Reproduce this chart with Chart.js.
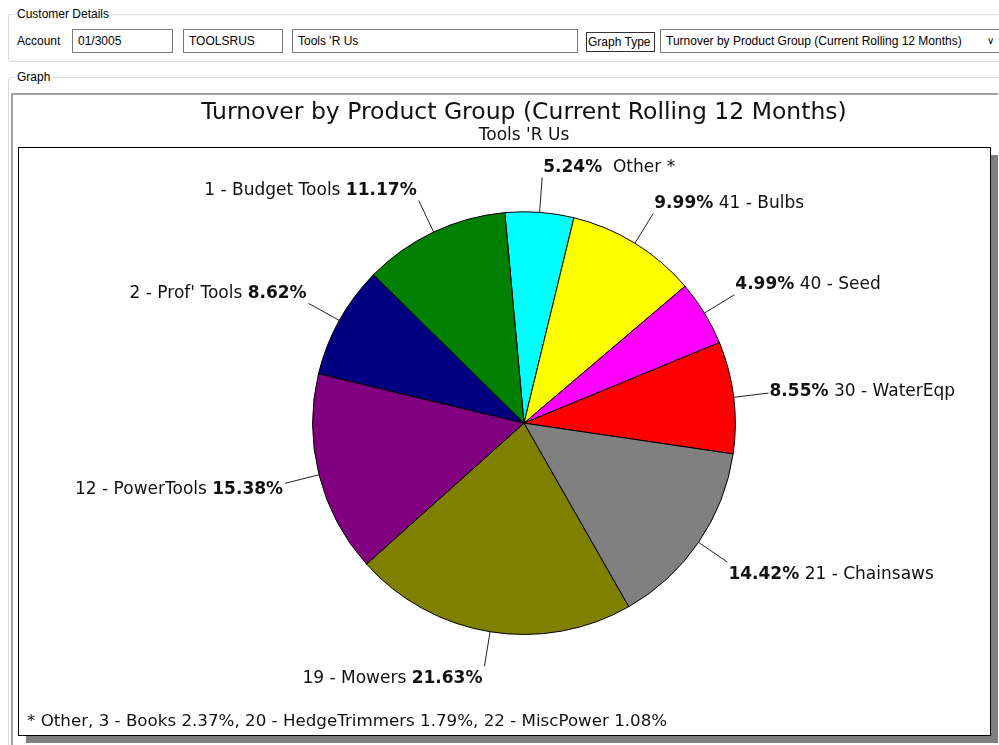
<!DOCTYPE html>
<html lang="en">
<head>
  <meta charset="UTF-8">
  <title>Turnover by Product Group</title>
  <script src="https://cdn.jsdelivr.net/npm/chart.js"></script>
  <style>
    body { margin: 0; background: #fff; font-family: "Liberation Sans", Arial, sans-serif; font-size: 12px; color: #000; }
    .abs { position: absolute; }
    fieldset { position: absolute; margin: 0; padding: 0; border: 1px solid #dcdcdc; border-radius: 3px; }
    legend { padding: 0 2px; margin-left: 6px; font-size: 12px; line-height: 12px; }
    .box { position: absolute; border: 1px solid #7a7a7a; height: 21px; line-height: 21px; padding-left: 5px; box-sizing: border-box; background: #fff; }
    #panel { position: absolute; left: 11px; top: 93px; width: 987px; height: 652px; border-left: 2px solid #a0a0a0; border-top: 2px solid #a0a0a0; box-sizing: border-box; }
    #chartWrap { position: absolute; left: 13px; top: 95px; width: 985px; height: 650px; }
  </style>
</head>
<body>
  <!-- Customer details group -->
  <fieldset style="left:8px; top:8px; width:1000px; height:52px;"><legend>Customer Details</legend></fieldset>
  <div class="abs" style="left:17px; top:34px;">Account</div>
  <div class="box" style="left:72px; top:29px; width:101px; height:24px; line-height:22px;">01/3005</div>
  <div class="box" style="left:183px; top:29px; width:100px; height:24px; line-height:22px;">TOOLSRUS</div>
  <div class="box" style="left:292px; top:29px; width:286px; height:24px; line-height:22px;">Tools 'R Us</div>
  <div class="box" style="left:586px; top:32px; width:69px; height:20px; line-height:18px; padding-left:1px; border-color:#333;">Graph Type</div>
  <div class="box" style="left:660px; top:29px; width:340px; height:24px; line-height:22px;">Turnover by Product Group (Current Rolling 12 Months)<span style="position:absolute; left:326px; top:0; font-size:10px;">&#8744;</span></div>

  <!-- Graph group -->
  <fieldset style="left:8px; top:71px; width:1000px; height:700px;"><legend>Graph</legend></fieldset>
  <div id="panel"></div>
  <div id="chartWrap"><canvas id="pieChart" width="985" height="650"></canvas></div>

<script>
// slices, clockwise from the top
const groupNames = ['Other *', '41 - Bulbs', '40 - Seed', '30 - WaterEqp', '21 - Chainsaws', '19 - Mowers', '12 - PowerTools', "2 - Prof' Tools", '1 - Budget Tools'];
const groupPercents = [5.24, 9.99, 4.99, 8.55, 14.42, 21.63, 15.38, 8.62, 11.17];
const groupColors = ['#00ffff', '#ffff00', '#ff00ff', '#ff0000', '#808080', '#808000', '#800080', '#000080', '#008000'];

// what "Other" is made of
const otherNames = ['3 - Books', '20 - HedgeTrimmers', '22 - MiscPower'];
const otherPercents = [2.37, 1.79, 1.08];

const chartTitle = 'Turnover by Product Group (Current Rolling 12 Months)';
const chartSubtitle = "Tools 'R Us";

const LABEL_FONT = 'DejaVu Sans, Verdana, sans-serif';
const LABEL_SIZE = 17;

// plot frame with drop shadow
const framePlugin = {
  id: 'frame',
  beforeDraw(chart) {
    const ctx = chart.ctx;
    const x = 5, y = 52, w = 972, h = 588;
    ctx.save();
    ctx.fillStyle = '#7f7f7f';
    ctx.fillRect(x + 8, y + 8, w, h);
    ctx.fillStyle = '#fff';
    ctx.fillRect(x, y, w, h);
    ctx.strokeStyle = '#000';
    ctx.lineWidth = 1;
    ctx.strokeRect(x + 0.5, y + 0.5, w, h);
    ctx.restore();
  },
  afterDraw(chart) {
    const ctx = chart.ctx;
    const parts = otherNames.map((n, i) => n + ' ' + otherPercents[i].toFixed(2) + '%');
    ctx.save();
    ctx.font = '16.7px ' + LABEL_FONT;
    ctx.fillStyle = '#111';
    ctx.textBaseline = 'middle';
    ctx.textAlign = 'left';
    ctx.fillText('* Other, ' + parts.join(', '), 14, 627);
    ctx.restore();
  }
};

// outside labels with leader lines, percent in bold
const leaderPlugin = {
  id: 'leaders',
  afterDatasetsDraw(chart) {
    const ctx = chart.ctx;
    const meta = chart.getDatasetMeta(0);
    const normal = LABEL_SIZE + 'px ' + LABEL_FONT;
    const bold = 'bold ' + LABEL_SIZE + 'px ' + LABEL_FONT;
    ctx.save();
    meta.data.forEach((arc, i) => {
      const p = arc.getProps(['x', 'y', 'startAngle', 'endAngle', 'outerRadius'], true);
      const mid = (p.startAngle + p.endAngle) / 2;
      const c = Math.cos(mid), s = Math.sin(mid);
      const ex = p.x + c * p.outerRadius, ey = p.y + s * p.outerRadius;
      const ox = p.x + c * (p.outerRadius + 35), oy = p.y + s * (p.outerRadius + 35);
      ctx.strokeStyle = '#222';
      ctx.lineWidth = 1;
      ctx.beginPath();
      ctx.moveTo(ex, ey);
      ctx.lineTo(ox, oy);
      ctx.stroke();

      const pct = groupPercents[i].toFixed(2) + '%';
      const name = groupNames[i];
      const up = -s; // cosine measured from the top
      const dy = -11 * Math.max(-1, Math.min(1, up * 2));
      const ty = oy + dy + 1;
      ctx.fillStyle = '#111';
      ctx.textBaseline = 'middle';
      ctx.textAlign = 'left';
      if (c >= 0) {
        let tx = ox + 1;
        ctx.font = bold;
        ctx.fillText(pct, tx, ty);
        tx += ctx.measureText(pct).width;
        ctx.font = normal;
        ctx.fillText((name === 'Other *' ? '  ' : ' ') + name, tx, ty);
      } else {
        ctx.font = bold;
        const bw = ctx.measureText(pct).width;
        ctx.font = normal;
        const nw = ctx.measureText(name + ' ').width;
        const tx = ox - 2 - bw - nw;
        ctx.fillText(name + ' ', tx, ty);
        ctx.font = bold;
        ctx.fillText(pct, tx + nw, ty);
      }
    });
    ctx.restore();
  }
};

new Chart(document.getElementById('pieChart'), {
  type: 'pie',
  data: {
    labels: groupNames,
    datasets: [{
      data: groupPercents,
      backgroundColor: groupColors,
      borderColor: '#000',
      borderWidth: 1,
      hoverOffset: 0
    }]
  },
  options: {
    responsive: false,
    animation: false,
    rotation: -5.2,
    layout: { padding: { left: 40, right: 3, top: 0, bottom: 110 } },
    plugins: {
      legend: { display: false },
      tooltip: { enabled: false },
      title: {
        display: true,
        text: chartTitle,
        color: '#111',
        font: { family: LABEL_FONT, size: 23.5, weight: 'normal', lineHeight: 1.1 },
        padding: { top: 5, bottom: 0 }
      },
      subtitle: {
        display: true,
        text: chartSubtitle,
        color: '#111',
        font: { family: LABEL_FONT, size: 17, lineHeight: 1.2 },
        padding: { top: 0, bottom: 65 }
      }
    }
  },
  plugins: [framePlugin, leaderPlugin]
});
</script>
</body>
</html>
